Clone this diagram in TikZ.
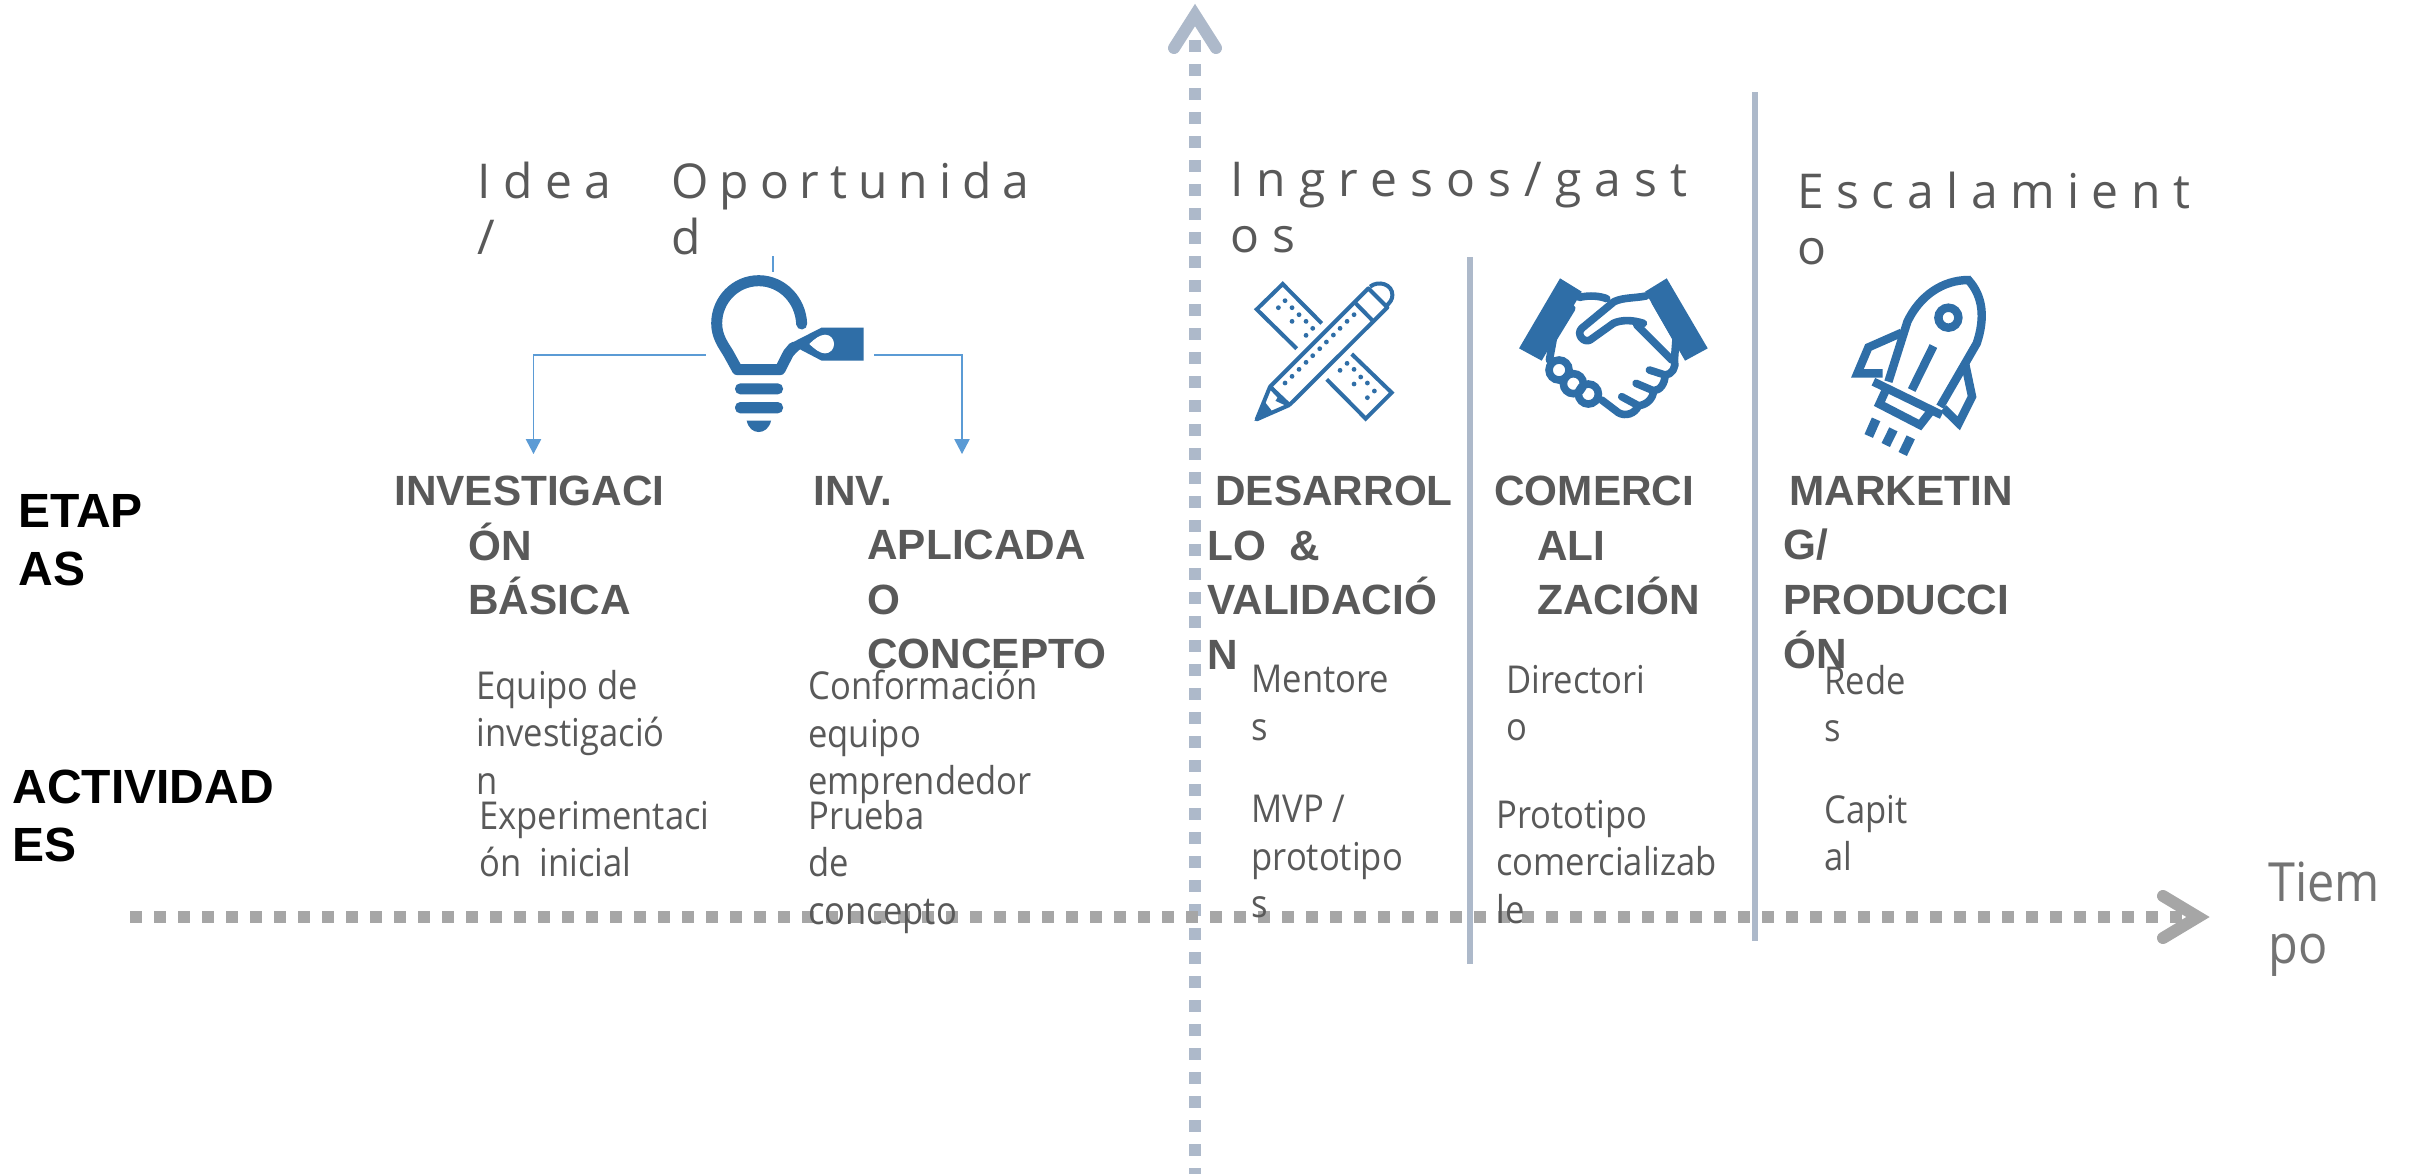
\documentclass[tikz,border=0pt]{standalone}
\usepackage{fontspec}
\usetikzlibrary{arrows.meta,calc}
\setmainfont{Liberation Sans}
\newfontfamily\bodyfont[FakeStretch=0.90]{Open Sans}
\newfontfamily\titlefont[LetterSpace=26]{Open Sans}
\newfontfamily\titlefontb[LetterSpace=22.8]{Open Sans}
\newfontfamily\titlefontc[LetterSpace=27.3]{Open Sans}
\definecolor{txt}{HTML}{595959}
\definecolor{icon}{HTML}{2F6EA7}
\definecolor{connblue}{HTML}{5B9BD5}
\definecolor{axv}{HTML}{ADB9CA}
\definecolor{axh}{HTML}{A6A6A6}
\tikzset{
 lines/.style={anchor=north west,inner sep=0pt,align=left,execute at begin node=\strut},
 hd/.style={lines,yshift=14.08pt,text=txt,font=\fontsize{21.15}{27.25}\selectfont\bfseries},
 bd/.style={lines,yshift=13.2pt,text=txt,font=\bodyfont\fontsize{19.2}{23.8}\selectfont},
 ttl/.style={lines,yshift=17.6pt,text=txt,font=\titlefont\fontsize{24}{28}\selectfont},
 ttlb/.style={ttl,font=\titlefontb\fontsize{24}{28}\selectfont},
 ttlc/.style={ttl,font=\titlefontc\fontsize{24}{28}\selectfont},
 lab/.style={lines,yshift=16.5pt,text=black,font=\fontsize{24}{29}\selectfont\bfseries},
 tm/.style={lines,yshift=18.2pt,text=black!55,font=\bodyfont\fontsize{27}{31}\selectfont},
 dotsaxis/.style={line width=6pt,dash pattern=on 6pt off 6pt},
 chev/.style={line width=6pt,line cap=round,line join=miter,miter limit=10},
 sep/.style={line width=3pt,axv},
 conn/.style={line width=0.6pt,connblue},
 ico/.style={draw=icon,line width=2pt,fill=none},
 zoomed/.style={x=0.166667pt,y=-0.166667pt}
}
\newcommand{\hh}[1]{\hspace*{#1pt}}
\begin{document}
\begin{tikzpicture}[x=0.5pt,y=-0.5pt]
\useasboundingbox[fill=white] (0,0) rectangle (2410,1174);
% named axis ends
\coordinate (vb) at (1195,1174); \coordinate (vt) at (1195,40);
\coordinate (vl) at (1174,48); \coordinate (vp) at (1195,15); \coordinate (vr) at (1216,48);
\coordinate (hl) at (130,917); \coordinate (hr) at (2182,917);
\coordinate (hu) at (2163,896); \coordinate (hp) at (2198,917); \coordinate (hd) at (2163,938);
\draw[dotsaxis,axv] (vt) -- (vb);
\draw[chev,axv] (vl) -- (vp) -- (vr);
\draw[dotsaxis,axh] (hl) -- (hr);
\draw[chev,axh] (hu) -- (hp) -- (hd);
% separators
\coordinate (s1t) at (1469.7,257); \coordinate (s1b) at (1469.7,964);
\coordinate (s2t) at (1755,92); \coordinate (s2b) at (1755,941);
\draw[sep] (s1t) -- (s1b);
\draw[sep] (s2t) -- (s2b);
% connectors of the bulb
\node[minimum width=84pt,minimum height=84pt,inner sep=0pt] (bulb) at (790,355) {};
\coordinate (al) at (533.5,454); \coordinate (ar) at (962,454);
\coordinate (tk1) at (773,256); \coordinate (tk2) at (773,272);
\draw[conn,-{Triangle[length=7.5pt,width=7.7pt]}] (bulb.west) -| (al);
\draw[conn,-{Triangle[length=7.5pt,width=7.7pt]}] (bulb.east) -| (ar);
\draw[conn] (tk1) -- (tk2);
% bulb icon
\begin{scope}[zoomed,shift={(1980,720)}]
 \draw[icon,line width=5.5pt,line cap=round,line join=round]
  (425,252) .. controls (422,180) and (366,122) .. (296,122)
  .. controls (226,122) and (170,180) .. (170,250)
  .. controls (170,290) and (190,315) .. (205,340) -- (232,389) -- (360,389) -- (385,340) -- (400,322);
 \fill[icon] (388,312) -- (484,263) -- (611,263) -- (611,362) -- (485,362) -- (420,328) -- (400,345) -- cycle;
 \fill[white] (448,312) .. controls (465,295) and (480,285) .. (495,284) .. controls (512,284) and (522,298) .. (522,312)
  .. controls (522,328) and (510,340) .. (495,340) .. controls (480,340) and (465,328) .. (448,312) -- cycle;
 \fill[icon,rounded corners=2.6pt] (225,430) rectangle (369,463);
 \fill[icon,rounded corners=2.6pt] (225,486) rectangle (369,520);
 \fill[icon] (260,542) -- (333,542) .. controls (328,565) and (312,576) .. (296,576) .. controls (280,576) and (265,565) .. (260,542) -- cycle;
\end{scope}
% pencil and ruler icon
\begin{scope}[zoomed,shift={(3690,780)}]
 \draw[ico,line join=miter] (275,190) -- (158,72) -- (80,148) -- (200,266);
 \draw[ico,line join=miter] (365,282) -- (485,398) -- (407,476) -- (290,358);
 \draw[ico,line join=round] (120,380) -- (415,85) -- (472,142) -- (178,435) -- cycle;
 \draw[ico] (375,128) -- (430,184);
 \draw[ico] (420,80) .. controls (445,60) and (487,72) .. (487,105) .. controls (487,118) and (480,128) .. (468,138);
 \draw[ico,line join=round] (120,380) -- (80,478) -- (178,435);
 \fill[icon] (73,483) -- (100,420) -- (125,452) -- cycle;
 \draw[ico] (120,380) -- (150,412) -- (145,420) -- (178,435);
 \foreach \p in {(165,122),(186,143),(207,164),(228,184),(248,205),(145,143),(186,184),(228,226),
   (330,331),(351,310),(372,328),(392,351),(412,369),(433,393),(372,372),(412,413),
   (165,369),(186,349),(207,328),(228,307),(248,287),(269,266),(289,246),(310,225),(330,205),(351,184),(372,164)}
   \fill[icon] \p circle[radius=1.2pt];
\end{scope}
% handshake icon
\begin{scope}[zoomed,shift={(4470,780)}]
 \fill[icon] (210,55) -- (275,95) -- (155,302) -- (87,265) -- cycle;
 \fill[icon] (530,55) -- (465,95) -- (585,302) -- (653,265) -- cycle;
 \begin{scope}[line width=3.8pt,line cap=round,line join=round]
 \draw[icon] (268,112) .. controls (300,105) and (330,108) .. (350,116);
 \draw[icon] (468,108) .. controls (430,115) and (400,112) .. (372,125) -- (275,205)
   .. controls (258,222) and (280,250) .. (300,240) -- (370,190) .. controls (395,178) and (430,180) .. (460,190);
 \draw[icon] (440,195) -- (545,300);
 \draw[icon] (245,145) -- (190,235) -- (178,300);
 \draw[icon] (495,125) -- (558,235) -- (553,300) .. controls (560,320) and (545,345) .. (525,345) -- (478,330);
 \draw[icon] (525,345) .. controls (525,370) and (510,392) .. (490,392) -- (438,370);
 \draw[icon] (490,392) .. controls (490,415) and (470,435) .. (445,437) -- (395,410);
 \draw[icon] (335,420) -- (385,458) .. controls (405,470) and (435,462) .. (445,437);
 \end{scope}
 \draw[icon,line width=3.8pt] (207,330) circle[radius=5pt];
 \draw[icon,line width=3.8pt] (250,371) circle[radius=5pt];
 \draw[icon,line width=3.8pt] (295,402) circle[radius=5pt];
\end{scope}
% rocket icon
\begin{scope}[zoomed,shift={(5460,780)}]
 \begin{scope}[line width=4.2pt,line join=miter]
 \draw[icon] (205,365) -- (262,185) .. controls (300,105) and (370,60) .. (445,60) .. controls (490,110) and (495,175) .. (470,250) -- (360,440);
 \draw[icon] (160,365) -- (365,465);
 \draw[icon] (195,395) -- (178,432) -- (300,495) -- (335,450);
 \draw[icon] (340,258) -- (275,390);
 \draw[icon] (245,218) -- (145,262) -- (112,340) -- (188,340);
 \draw[icon] (435,310) -- (456,410) -- (416,490) -- (370,445);
 \draw[icon] (385,173) circle[radius=5pt];
 \end{scope}
 \draw[icon,line width=4.6pt] (168,478) -- (146,528);
 \draw[icon,line width=4.6pt] (220,508) -- (197,555);
 \draw[icon,line width=4.6pt] (272,532) -- (248,582);
\end{scope}
% titles
\node[ttl] (t1) at (477,197) {Idea\\/};
\node[ttlb] (t2) at (671,197) {Oportunida\\d};
\node[ttlc] (t3) at (1230,197) {Ingresos/gast\\os};
\node[ttl] (t4) at (1797,207) {Escalamient\\o};
% headings
\node[hd] (h1) at (394,504) {INVESTIGACI\\\hh{37}ÓN\\\hh{37}BÁSICA};
\node[hd] (h2) at (813,504) {INV.\\\hh{27}APLICADA\\\hh{27}O\\\hh{27}CONCEPTO};
\node[hd] (h3) at (1207,504) {\hh{4}DESARROL\\LO \ \&\\VALIDACIÓ\\N};
\node[hd] (h4) at (1494,504) {COMERCI\\\hh{21.5}ALI\\\hh{21.5}ZACIÓN};
\node[hd] (h5) at (1783,504) {\hh{3}MARKETIN\\G/\\PRODUCCI\\ÓN};
% side labels
\node[lab] (l1) at (18,527) {ETAP\\AS};
\node[lab] (l2) at (12,803) {ACTIVIDAD\\ES};
% activities
\node[bd] (b1) at (476,696) {Equipo de\\investigació\\n};
\node[bd] (b2) at (479,827) {Experimentaci\\ón \ inicial};
\node[bd] (b3) at (808,696) {Conformación\\equipo\\emprendedor};
\node[bd] (b4) at (808,826) {Prueba\\de\\concepto};
\node[bd] (b5) at (1251,691) {Mentore\\s};
\node[bd] (b6) at (1251,821) {MVP /\\prototipo\\s};
\node[bd] (b7) at (1506,691) {Directori\\o};
\node[bd] (b8) at (1496,826) {Prototipo\\comercializab\\le};
\node[bd] (b9) at (1824,691) {Rede\\s};
\node[bd] (b10) at (1824,821) {Capit\\al};
\node[tm] (tm) at (2268,898) {Tiem\\po};
\end{tikzpicture}
\end{document}
